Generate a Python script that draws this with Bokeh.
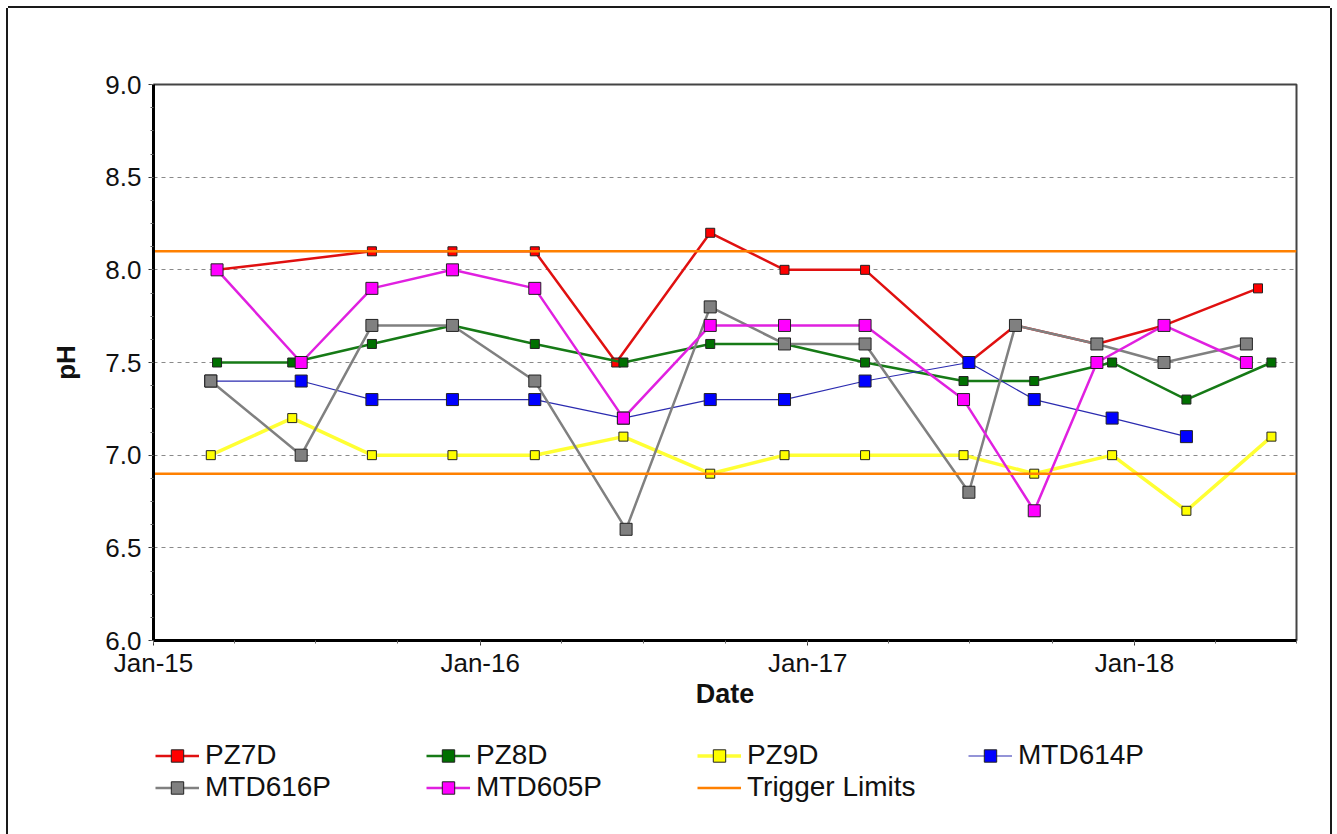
import pandas as pd
from bokeh.plotting import figure
from bokeh.layouts import column
from bokeh.models import (Range1d, FixedTicker, DatetimeTickFormatter, Legend, LegendItem,
                          NumeralTickFormatter, SingleIntervalTicker)
from bokeh.embed import file_html
from bokeh.resources import INLINE

# ---------------- data ----------------
pz7d_dates = ["2015-03-13", "2015-09-02", "2015-12-01", "2016-03-02", "2016-06-01", "2016-09-14",
              "2016-12-06", "2017-03-06", "2017-06-30", "2017-08-21", "2017-11-20", "2018-02-03",
              "2018-05-19"]
pz7d_ph = [8.0, 8.1, 8.1, 8.1, 7.5, 8.2, 8.0, 8.0, 7.5, 7.7, 7.6, 7.7, 7.9]

pz8d_dates = ["2015-03-13", "2015-06-05", "2015-09-02", "2015-12-01", "2016-03-02", "2016-06-09",
              "2016-09-14", "2016-12-06", "2017-03-06", "2017-06-24", "2017-09-11", "2017-12-07",
              "2018-02-28", "2018-06-03"]
pz8d_ph = [7.5, 7.5, 7.6, 7.7, 7.6, 7.5, 7.6, 7.6, 7.5, 7.4, 7.4, 7.5, 7.3, 7.5]

pz9d_dates = ["2015-03-06", "2015-06-05", "2015-09-02", "2015-12-01", "2016-03-02", "2016-06-09",
              "2016-09-14", "2016-12-06", "2017-03-06", "2017-06-24", "2017-09-11", "2017-12-07",
              "2018-02-28", "2018-06-03"]
pz9d_ph = [7.0, 7.2, 7.0, 7.0, 7.0, 7.1, 6.9, 7.0, 7.0, 7.0, 6.9, 7.0, 6.7, 7.1]

mtd614p_dates = ["2015-03-06", "2015-06-15", "2015-09-02", "2015-12-01", "2016-03-02", "2016-06-09",
                 "2016-09-14", "2016-12-06", "2017-03-06", "2017-06-30", "2017-09-11", "2017-12-07",
                 "2018-02-28"]
mtd614p_ph = [7.4, 7.4, 7.3, 7.3, 7.3, 7.2, 7.3, 7.3, 7.4, 7.5, 7.3, 7.2, 7.1]

mtd616p_dates = ["2015-03-06", "2015-06-15", "2015-09-02", "2015-12-01", "2016-03-02", "2016-06-12",
                 "2016-09-14", "2016-12-06", "2017-03-06", "2017-06-30", "2017-08-21", "2017-11-20",
                 "2018-02-03", "2018-05-06"]
mtd616p_ph = [7.4, 7.0, 7.7, 7.7, 7.4, 6.6, 7.8, 7.6, 7.6, 6.8, 7.7, 7.6, 7.5, 7.6]

mtd605p_dates = ["2015-03-13", "2015-06-15", "2015-09-02", "2015-12-01", "2016-03-02", "2016-06-09",
                 "2016-09-14", "2016-12-06", "2017-03-06", "2017-06-24", "2017-09-11", "2017-11-20",
                 "2018-02-03", "2018-05-06"]
mtd605p_ph = [8.0, 7.5, 7.9, 8.0, 7.9, 7.2, 7.7, 7.7, 7.7, 7.3, 6.7, 7.5, 7.7, 7.5]

trigger_upper = 8.1
trigger_lower = 6.9

x_start = "2015-01-01"
x_end = "2018-07-01"
year_ticks = ["2015-01-01", "2016-01-01", "2017-01-01", "2018-01-01"]


def ms(d):
    return pd.Timestamp(d).timestamp() * 1000.0


def dts(lst):
    return pd.to_datetime(lst)


FONT = "Liberation Sans"

p = figure(width=1322, height=720, output_backend="svg", toolbar_location=None,
           x_axis_type="datetime",
           x_range=Range1d(ms(x_start), ms(x_end)), y_range=Range1d(6.0, 9.0),
           min_border_left=145, min_border_right=34, min_border_top=76, min_border_bottom=88)
p.background_fill_color = "white"
p.border_fill_color = "white"
p.outline_line_color = "#444444"
p.outline_line_width = 2

# axes
quarters = [ms(d) for d in pd.date_range(x_start, x_end, freq="QS")]
p.xaxis.ticker = FixedTicker(ticks=[ms(d) for d in year_ticks], minor_ticks=quarters)
p.xaxis.formatter = DatetimeTickFormatter(years="%b-%y", months="%b-%y", days="%b-%y",
                                          hours="%b-%y", minutes="%b-%y", seconds="%b-%y",
                                          milliseconds="%b-%y", microseconds="%b-%y")
p.yaxis.ticker = SingleIntervalTicker(interval=0.5, num_minor_ticks=4)
p.yaxis.formatter = NumeralTickFormatter(format="0.0")

for ax in (p.xaxis[0], p.yaxis[0]):
    ax.axis_line_color = "black"
    ax.axis_line_width = 3
    ax.major_tick_line_color = "#333333"
    ax.major_tick_out = 5
    ax.major_tick_in = 0
    ax.minor_tick_line_color = "#666666"
    ax.minor_tick_out = 3
    ax.minor_tick_in = 0
    ax.major_label_text_font = FONT
    ax.major_label_text_font_size = "26px"
    ax.major_label_text_color = "#111111"
    ax.axis_label_text_font = FONT
    ax.axis_label_text_font_style = "bold"
    ax.axis_label_text_color = "#111111"

p.xaxis.axis_label = "Date"
p.xaxis.axis_label_text_font_size = "27px"
p.xaxis.major_label_standoff = 2
p.xaxis.axis_label_standoff = -2
p.yaxis.axis_label = "pH"
p.yaxis.axis_label_text_font_size = "26px"
p.yaxis.major_label_standoff = 7
p.yaxis.axis_label_standoff = 21

p.xgrid.grid_line_color = None
p.ygrid.grid_line_color = "#8a8a8a"
p.ygrid.grid_line_dash = "4 4"
p.ygrid.grid_line_width = 1

# series: name, dates, values, line colour, line width, marker fill, marker size
series = [
    ("PZ7D", pz7d_dates, pz7d_ph, "#e01010", 2.5, "#ff0000", 9),
    ("PZ8D", pz8d_dates, pz8d_ph, "#167a16", 2.5, "#007000", 9),
    ("PZ9D", pz9d_dates, pz9d_ph, "#ffff33", 3.5, "#ffff00", 9),
    ("MTD614P", mtd614p_dates, mtd614p_ph, "#2b2bb0", 1.2, "#0000ff", 12),
    ("MTD616P", mtd616p_dates, mtd616p_ph, "#808080", 2.5, "#808080", 12),
    ("MTD605P", mtd605p_dates, mtd605p_ph, "#e020e0", 2.5, "#ff00ff", 12),
]

for name, d, v, lc, lw, fc, sz in series:
    x = dts(d)
    p.line(x, v, line_color=lc, line_width=lw)
    p.scatter(x, v, marker="square", size=sz, fill_color=fc, line_color="#222222", line_width=1)

TRIG = "#ff8000"
trig_x = dts([x_start, x_end])
p.line(trig_x, [trigger_upper, trigger_upper], line_color=TRIG, line_width=2.5)
p.line(trig_x, [trigger_lower, trigger_lower], line_color=TRIG, line_width=2.5)

# ---------------- legend panel (separate canvas below the chart) ----------------
# Same series are drawn here with a y range where the data lie out of view,
# so that only the legend entries show.
lg = figure(width=1322, height=106, output_backend="svg", toolbar_location=None,
            x_axis_location=None, y_axis_location=None, min_border=0,
            x_range=Range1d(ms(x_start), ms(x_end)), y_range=Range1d(0, 1))
lg.outline_line_color = None
lg.grid.visible = False
lg.background_fill_color = "white"
lg.border_fill_color = "white"

items = {}
for name, d, v, lc, lw, fc, sz in series:
    x = dts(d)
    r1 = lg.line(x, v, line_color=lc, line_width=lw)
    r2 = lg.scatter(x, v, marker="square", size=sz, fill_color=fc, line_color="#222222",
                    line_width=1)
    items[name] = [r1, r2]
items["Trigger Limits"] = [lg.line(trig_x, [trigger_upper, trigger_upper], line_color=TRIG,
                                   line_width=2.5)]

legend_order = ["PZ7D", "PZ8D", "PZ9D", "MTD614P", "MTD616P", "MTD605P", "Trigger Limits"]
leg = Legend(items=[LegendItem(label=nm, renderers=items[nm]) for nm in legend_order],
             location=(2, 31), orientation="horizontal", ncols=4,
             padding=0, margin=0, spacing=0,
             glyph_width=44, glyph_height=31, label_height=31, label_width=221,
             label_standoff=6,
             border_line_color=None, background_fill_alpha=0,
             label_text_font=FONT, label_text_font_size="28px",
             label_text_color="#111111")
lg.add_layout(leg, "center")

layout = column(p, lg, spacing=0)
layout.styles = {"margin-left": "8px", "margin-top": "8px",
                 "box-shadow": "-2px 0 0 0 #1a1a1a, 2px 0 0 0 #1a1a1a, 0 -2px 0 0 #1a1a1a"}

open("out.html", "w").write(file_html(layout, INLINE))
